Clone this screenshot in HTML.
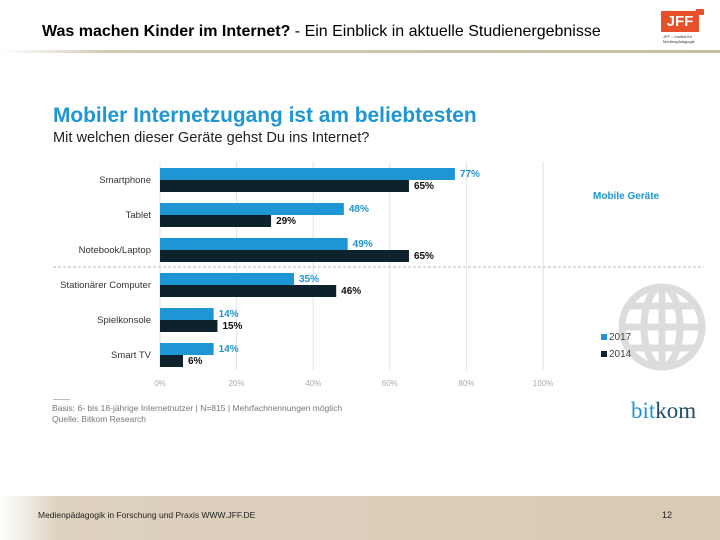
<!DOCTYPE html>
<html><head><meta charset="utf-8"><style>
body{margin:0;width:720px;height:540px;overflow:hidden;background:#fff;font-family:"Liberation Sans",sans-serif;position:relative}
.abs{position:absolute}
</style></head><body>
<div class="abs" style="left:42px;top:23px;font-size:16px;color:#000;white-space:nowrap"><b>Was machen Kinder im Internet?</b> - Ein Einblick in aktuelle Studienergebnisse</div>
<div class="abs" style="left:0;top:50px;width:720px;height:3px;background:linear-gradient(90deg,#fff,#d3c9b2 15%,#c9bea3)"></div>
<div class="abs" style="left:661px;top:11px;width:38px;height:21px;background:#e8502a;color:#fff;font-weight:bold;font-size:15px;text-align:center;line-height:21px">JFF</div>
<div class="abs" style="left:696px;top:9px;width:8px;height:6px;background:#e8502a"></div>
<div class="abs" style="left:663px;top:34px;font-size:4px;line-height:5px;color:#333">JFF – Institut für<br>Medienpädagogik</div>
<svg class="abs" style="left:0;top:0" width="720" height="540">
<g fill="none" stroke="#dcdcdc" stroke-width="7">
<circle cx="662" cy="327" r="40"/><ellipse cx="662" cy="327" rx="18" ry="40"/><line x1="662" y1="287" x2="662" y2="367"/><line x1="622" y1="327" x2="702" y2="327"/><line x1="628" y1="306" x2="696" y2="306"/><line x1="628" y1="348" x2="696" y2="348"/></g>
<g id="grid"></g><g id="bars"></g>
</svg>
<div class="abs" style="left:53px;top:104px;font-size:20.9px;font-weight:bold;color:#1e96d3;white-space:nowrap">Mobiler Internetzugang ist am beliebtesten</div>
<div class="abs" style="left:53px;top:130px;font-size:14.6px;color:#222;white-space:nowrap">Mit welchen dieser Geräte gehst Du ins Internet?</div>
<div class="abs" style="left:593px;top:191px;font-size:10px;font-weight:bold;color:#1e96d3">Mobile Geräte</div>
<div class="abs" style="left:601px;top:332px;font-size:10px;color:#444"><span style="display:inline-block;width:6px;height:6px;background:#1e96d3;margin-right:2px"></span>2017</div>
<div class="abs" style="left:601px;top:349px;font-size:10px;color:#444"><span style="display:inline-block;width:6px;height:6px;background:#0e222c;margin-right:2px"></span>2014</div>
<div class="abs" style="left:53px;top:399px;width:17px;height:1px;background:#bbb"></div>
<div class="abs" style="left:52px;top:403px;font-size:8.5px;line-height:11px;color:#777;white-space:nowrap">Basis: 6- bis 18-jährige Internetnutzer | N=815 | Mehrfachnennungen möglich<br>Quelle: Bitkom Research</div>
<div class="abs" style="left:631px;top:398px;font-size:23px;font-family:'Liberation Serif',serif;color:#1d4f6b"><span style="color:#1e96d3">bit</span>kom</div>
<div class="abs" style="left:0;top:496px;width:720px;height:44px;background:linear-gradient(90deg,#fff 0%,#ddd1bf 8%,#d8cab3 100%)"></div>
<div class="abs" style="left:38px;top:510px;font-size:8.5px;color:#222">Medienpädagogik in Forschung und Praxis WWW.JFF.DE</div>
<div class="abs" style="left:662px;top:510px;font-size:9px;color:#222">12</div>
<script>
const categories=["Smartphone","Tablet","Notebook/Laptop","Stationärer Computer","Spielkonsole","Smart TV"];
const values2017=[77,48,49,35,14,14];
const values2014=[65,29,65,46,15,6];
const tickValues=[0,20,40,60,80,100];
const NS="http://www.w3.org/2000/svg";
const x0=160,x1=543,yTop=168,step=35,bh=12;
const xs=v=>x0+(x1-x0)*v/100;
const grid=document.getElementById('grid'),bars=document.getElementById('bars');
function mk(p,t,a){const e=document.createElementNS(NS,t);for(const k in a)e.setAttribute(k,a[k]);p.appendChild(e);return e;}
tickValues.forEach(v=>{
 const l=mk(grid,'line',{x1:xs(v),x2:xs(v),y1:162,y2:370,stroke:'#e2e2e2','stroke-width':1});
 
 
 const t=mk(grid,'text',{x:xs(v),y:386,'text-anchor':'middle','font-size':8,fill:'#aaa'});t.textContent=v+'%';
 
 
});
const d=mk(grid,'line',{x1:53,x2:704,y1:267,y2:267,stroke:'#bbb','stroke-dasharray':'3,2'});


categories.forEach((c,i)=>{
 const y=yTop+i*step;
 const lab=mk(bars,'text',{x:151,y:y+15,'text-anchor':'end','font-size':9.5,fill:'#333'});lab.textContent=c;
 
 
 const b1=mk(bars,'rect',{x:x0,y:y,width:xs(values2017[i])-x0,height:bh,fill:'#1e96d3'});
 
 
 const b2=mk(bars,'rect',{x:x0,y:y+bh,width:xs(values2014[i])-x0,height:bh,fill:'#0e222c'});
 
 
 const t1=mk(bars,'text',{x:xs(values2017[i])+5,y:y+9,'font-size':10,'font-weight':'bold',fill:'#1e96d3'});t1.textContent=values2017[i]+'%';
 
 
 const t2=mk(bars,'text',{x:xs(values2014[i])+5,y:y+bh+9,'font-size':10,'font-weight':'bold',fill:'#111'});t2.textContent=values2014[i]+'%';
 
 
});
</script>
</body></html>
